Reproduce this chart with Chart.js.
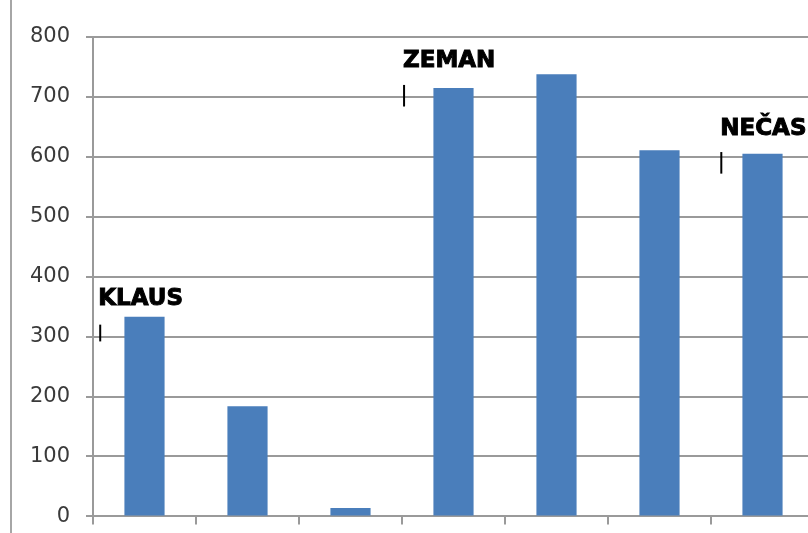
<!DOCTYPE html>
<html>
<head>
<meta charset="utf-8">
<script src="https://cdn.jsdelivr.net/npm/chart.js@4"></script>
<style>
  html, body { margin: 0; padding: 0; background: #fff; overflow: hidden; }
  #wrap { width: 808px; height: 533px; overflow: hidden; }
</style>
</head>
<body>
<div id="wrap"><canvas id="chart" width="816" height="545"></canvas></div>
<script>
// bar values
const categories = ['1', '2', '3', '4', '5', '6', '7'];
const values = [333, 184, 14, 715, 738, 611, 605];
const yTicks = [0, 100, 200, 300, 400, 500, 600, 700, 800];

// names written above the bars, anchored in data units (category index, value)
const names = ['KLAUS', 'ZEMAN', 'NEČAS'];
const nameX = [-0.45, 2.51, 5.59];
const nameY = [353, 750, 637];
const markX = [-0.43, 2.52, 5.6];
const markTop = [320, 720, 608];
const markBottom = [292, 684, 572];

const annotations = {
    id: 'annotations',
    afterDatasetsDraw(chart) {
        const { ctx, scales: { x, y } } = chart;
        const slot = x.getPixelForValue(1) - x.getPixelForValue(0);
        const px = v => x.getPixelForValue(0) + v * slot;
        ctx.save();
        ctx.fillStyle = '#000';
        ctx.strokeStyle = '#000';
        ctx.font = 'bold 23px "DejaVu Sans"';
        ctx.textBaseline = 'alphabetic';
        names.forEach((n, i) => {
            ctx.lineWidth = 1;
            ctx.fillText(n, px(nameX[i]), y.getPixelForValue(nameY[i]));
            ctx.strokeText(n, px(nameX[i]), y.getPixelForValue(nameY[i]));
            ctx.lineWidth = 2;
            ctx.beginPath();
            ctx.moveTo(px(markX[i]), y.getPixelForValue(markTop[i]));
            ctx.lineTo(px(markX[i]), y.getPixelForValue(markBottom[i]));
            ctx.stroke();
        });
        // thin frame line on the left edge
        ctx.strokeStyle = '#a6a6a6';
        ctx.lineWidth = 2;
        ctx.beginPath();
        ctx.moveTo(11, 0);
        ctx.lineTo(11, 533);
        ctx.stroke();
        ctx.restore();
    }
};

new Chart(document.getElementById('chart'), {
    type: 'bar',
    data: {
        labels: categories,
        datasets: [{
            data: values,
            backgroundColor: '#4a7ebb',
            borderWidth: 0,
            categoryPercentage: 1,
            barPercentage: 0.39
        }]
    },
    options: {
        responsive: false,
        animation: false,
        layout: { padding: { top: 37, right: 2, left: 0, bottom: 0 } },
        plugins: { legend: { display: false }, tooltip: { enabled: false } },
        scales: {
            x: {
                offset: true,
                afterFit: s => { s.height = 4; },
                grid: {
                    offset: true,
                    drawOnChartArea: false,
                    tickLength: 8,
                    color: '#9a9a9a',
                    lineWidth: 2
                },
                border: { color: '#9a9a9a', width: 2 },
                ticks: { display: false }
            },
            y: {
                min: 0,
                max: 800,
                afterFit: s => { s.width = 93; },
                afterBuildTicks: s => { s.ticks = yTicks.map(v => ({ value: v })); },
                grid: { color: '#9a9a9a', lineWidth: 2, tickLength: 7 },
                border: { color: '#9a9a9a', width: 2 },
                ticks: {
                    padding: 16,
                    color: '#3a3a3a',
                    font: { family: 'DejaVu Sans', size: 21 }
                }
            }
        }
    },
    plugins: [annotations]
});
</script>
</body>
</html>
